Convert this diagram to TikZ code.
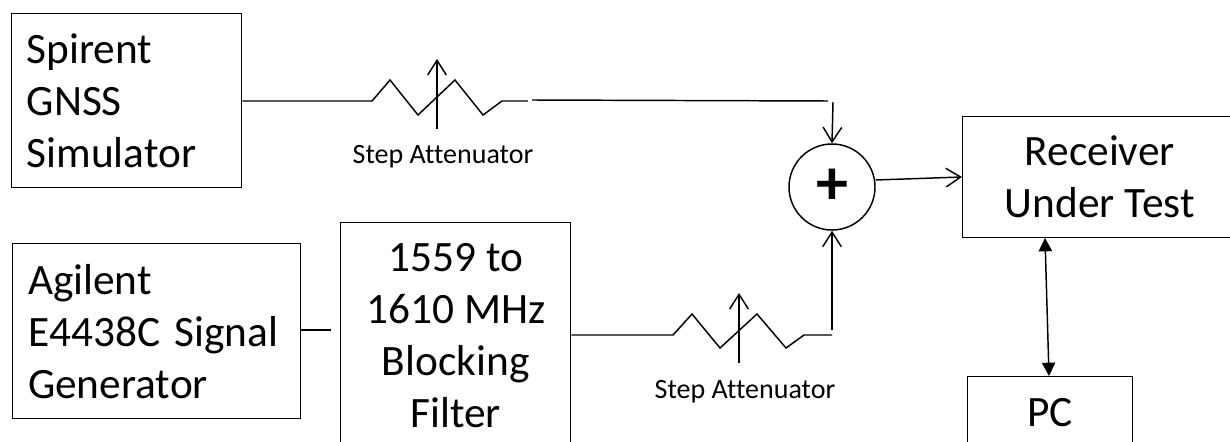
\documentclass[tikz,border=0pt]{standalone}
\usepackage{fontspec}
\setmainfont[Ligatures={NoCommon}]{Carlito}
\usetikzlibrary{arrows.meta}
\tikzset{
  block/.style={draw,line width=1.1pt,inner sep=0pt,anchor=north west,font=\fontsize{32.5}{39}\selectfont},
  wire/.style={line width=1.1pt},
  feed/.style={line width=1.1pt,-{Straight Barb[length=11pt,width=14pt]}},
  tag/.style={inner sep=0pt,font=\fontsize{21}{25}\selectfont}
}
\begin{document}
\begin{tikzpicture}[x=.75pt,y=-.75pt]
  \useasboundingbox (0,0) rectangle (1230,442);
  \clip (0,0) rectangle (1230,442);
  \node[block,minimum width=172.5pt,minimum height=130.5pt,align=left,text width=150pt] (sim) at (11,13) {Spirent\\GNSS\\Simulator};
  \node[block,minimum width=216pt,minimum height=131.25pt,align=left,text width=193pt] (gen) at (12,243) {Agilent\\E4438C Signal\\Generator};
  \node[block,minimum width=172.5pt,minimum height=170pt,align=center] (filt) at (340,222) {1559 to\\1610 MHz\\Blocking\\Filter};
  \node[block,minimum width=205.5pt,minimum height=90.75pt,align=center] (rx) at (962,116) {Receiver\\Under Test};
  \node[block,minimum width=123.75pt,minimum height=54pt] (pc) at (967,376) {PC};
  \node[draw,circle,line width=1.1pt,minimum size=64.5pt,inner sep=0pt,font=\fontsize{48}{48}\selectfont\bfseries] (sum) at (832,187) {+};
  \node[tag] (att1) at (443,157) {Step Attenuator};
  \node[tag] (att2) at (745,392) {Step Attenuator};
  % upper path
  \coordinate (a1) at (344,101); \coordinate (a2) at (528,101); \coordinate (a3) at (532,100);
  \coordinate (a4) at (828,101); \coordinate (a5) at (833,102);
  \draw[wire] (sim.east |- a1) -- (a1) -- (372,101) -- (390,80) -- (418,115) -- (455,80) -- (483,115) -- (502,101) -- (a2);
  \draw[wire] (a3) -- (a4);
  \draw[feed] (a5) -- (sum.north);
  \draw[feed] (437,129) -- (437,59);
  % lower path
  \coordinate (b1) at (645,335); \coordinate (b2) at (832,335); \coordinate (b3) at (832,330);
  \draw[wire] (filt.east |- b1) -- (b1) -- (673,335) -- (692,314) -- (720,348) -- (757,314) -- (786,348) -- (804,335) -- (b2);
  \draw[feed] (b3) -- (sum.south);
  \draw[feed] (739,363) -- (739,293);
  \coordinate (c1) at (301,330); \coordinate (c2) at (331,330);
  \draw[wire] (c1) -- (c2);
  \draw[feed] (sum.east |- 0,180) -- (rx.west |- 0,177);
  \coordinate (d1) at (1045,238); \coordinate (d2) at (1049,376);
  \draw[wire,{Stealth[length=10pt,width=10pt,inset=0pt]}-{Stealth[length=10pt,width=10pt,inset=0pt]}] (d1) -- (d2);
\end{tikzpicture}
\end{document}
